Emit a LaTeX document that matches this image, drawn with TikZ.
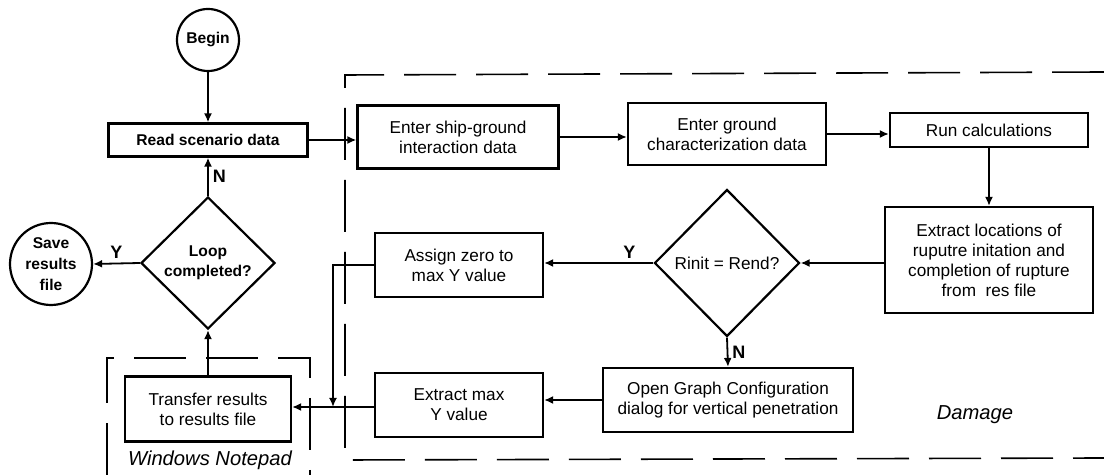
\documentclass[tikz,border=0pt]{standalone}
\usepackage{fontspec}
\setmainfont{Liberation Sans}
\usetikzlibrary{shapes.geometric,arrows.meta}
\tikzset{
    heavy/.style={font=\bfseries\fontsize{7.8}{10}\selectfont},
    box/.style={draw, line width=1.1pt, align=center, inner sep=1pt},
    term/.style={draw, circle, line width=1.1pt, align=center, inner sep=0pt, heavy},
    choice/.style={draw, diamond, line width=1.1pt, align=center, inner sep=0pt},
    flow/.style={line width=0.9pt, -{Latex[length=4.5pt,width=4pt]}},
    region/.style={line width=0.8pt, dash pattern=on 26pt off 10pt},
    lbl/.style={font=\bfseries\fontsize{9}{10}\selectfont, inner sep=2pt},
    tag/.style={font=\fontsize{10.1}{12}\selectfont\itshape},
}
\begin{document}
\begin{tikzpicture}[x=0.5pt, y=-0.5pt, font=\fontsize{8.6}{10}\selectfont]
            \useasboundingbox (0,0) rectangle (1104,475);

            \node[term, minimum size=31pt] (begin) at (208,40) {Begin};
            \node[box, heavy, minimum width=99.5pt, minimum height=16.5pt] (read) at (208,140) {Read scenario data};
            \node[box, minimum width=100.5pt, minimum height=31.5pt] (ship) at (458,137) {Enter ship-ground\\interaction data};
            \node[box, minimum width=99pt, minimum height=31pt] (ground) at (727,134) {Enter ground\\characterization data};
            \node[box, minimum width=99pt, minimum height=17pt] (run) at (989,130) {Run calculations};
            \node[box, minimum width=104pt, minimum height=53pt] (extloc) at (989,260) {Extract locations of\\ruputre initation and\\completion of rupture\\from \ res file};

            \node[choice, minimum width=72.5pt, minimum height=73.5pt] (rinit) at (727,263) {Rinit = Rend?};
            \node[box, minimum width=84pt, minimum height=32pt] (assign) at (459,265) {Assign zero to\\max Y value};
            \node[box, minimum width=125pt, minimum height=32pt] (opengraph) at (728,400) {Open Graph Configuration\\dialog for vertical penetration};
            \node[box, minimum width=84pt, minimum height=32pt] (extmax) at (459,405) {Extract max\\Y value};
            \node[box, minimum width=83pt, minimum height=32.5pt] (transfer) at (208,409) {Transfer results\\to results file};

            \node[choice, heavy, minimum width=67pt, minimum height=66pt] (loop) at (208,263) {Loop\\completed?};
            \node[term, minimum size=41pt, font=\bfseries\fontsize{7.8}{10.5}\selectfont] (save) at (51,264) {Save\\results\\file};

            \coordinate (join) at (333,407);

            \draw[region] (1104,72) -- (345,75) -- (345,460) -- (1104,458);
            \draw[region] (107,475) -- (107,358) -- (310,358) -- (310,475);

            \draw[flow] (begin) -- (read);
            \draw[flow] (read.east) -- (read.east -| ship.west);
            \draw[flow] (ship.east) -- (ship.east -| ground.west);
            \draw[flow] (ground.east) -- (ground.east -| run.west);
            \draw[flow] (run) -- (extloc);
            \draw[flow] (extloc.west |- rinit) -- (rinit.east);
            \draw[flow] (rinit.west) -- node[lbl, above, pos=0.22] {Y} (rinit.west -| assign.east);
            \draw[flow] (rinit.south) -- node[lbl, right] {N} (opengraph.north);
            \draw[flow] (opengraph.west) -- (opengraph.west -| extmax.east);
            \draw[flow] (extmax.west |- join) -- (join -| transfer.east);
            \draw[flow] (assign.west) -| (join);
            \draw[flow] (transfer) -- (loop.south);
            \draw[flow] (loop.north) -- node[lbl, right] {N} (read.south);
            \draw[flow] (loop.west) -- node[lbl, above] {Y} (save.east);

            \node[tag] (damage) at (975,415) {Damage};
            \node[tag] (notepad) at (210,460) {Windows Notepad};
        \end{tikzpicture}
\end{document}
